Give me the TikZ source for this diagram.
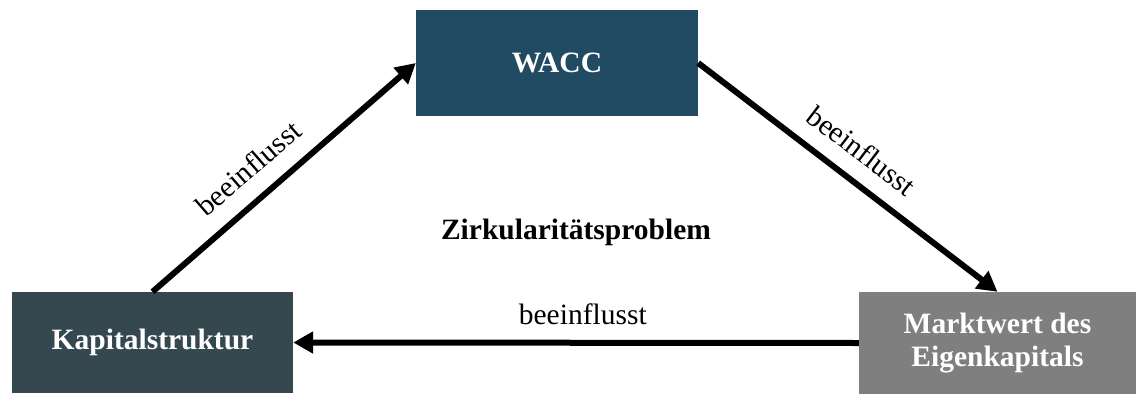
\documentclass[tikz,border=0pt]{standalone}
\usepackage{fontspec}
\setmainfont{Liberation Serif}
\usetikzlibrary{arrows.meta}

\definecolor{waccblue}{RGB}{33,74,99}
\definecolor{kapslate}{RGB}{54,72,79}
\definecolor{marktgray}{RGB}{127,127,127}

\tikzset{
  box/.style={draw=none, inner sep=0pt, text=white, align=center,
    font=\fontsize{29.5}{33}\selectfont\bfseries},
  flow/.style={line width=6pt, -{Triangle[length=20pt,width=21pt]}},
  lbl/.style={inner sep=0pt, font=\fontsize{29.5}{33}\selectfont}
}

\begin{document}
\begin{tikzpicture}[x=1pt, y=-1pt]
  \useasboundingbox (0,0) rectangle (1136,394);

  \node[box, fill=waccblue, minimum width=282pt, minimum height=106pt]
    (wacc) at (557,63) {WACC};
  \node[box, fill=kapslate, minimum width=281pt, minimum height=101pt]
    (kap) at (152.5,342.5) {Kapitalstruktur};
  \node[box, fill=marktgray, minimum width=277pt, minimum height=102pt]
    (markt) at (997.5,343) {Marktwert des\\Eigenkapitals};

  \node[lbl, font=\fontsize{29.5}{33}\selectfont\bfseries]
    (zirk) at (576,232) {Zirkularitätsproblem};

  \draw[flow] (kap.north) -- node[lbl, sloped, above=17pt, pos=0.44] (l1) {beeinflusst} (wacc.west);
  \draw[flow] (wacc.east) -- node[lbl, sloped, above=16pt, pos=0.486] (l2) {beeinflusst} (markt.north);
  \draw[flow] (markt.west) -- node[lbl, above=15pt, pos=0.488] (l3) {beeinflusst} (kap.east);
\end{tikzpicture}
\end{document}
